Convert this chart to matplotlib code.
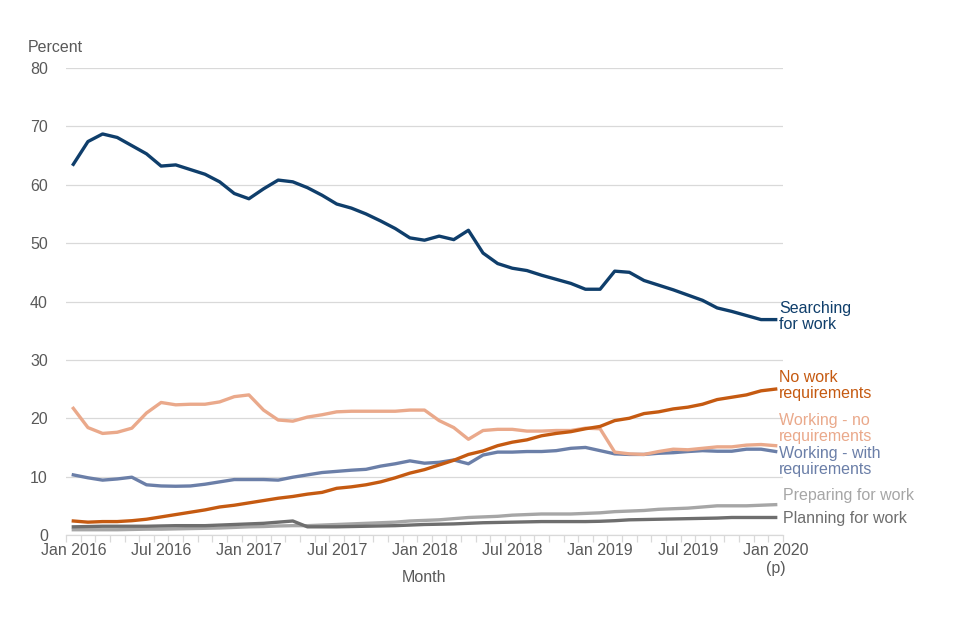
import matplotlib
matplotlib.use("Agg")
import matplotlib.pyplot as plt
import numpy as np

plt.rcParams['font.family'] = ['Liberation Sans', 'DejaVu Sans']

months = list(range(49))
tick_positions = [0, 6, 12, 18, 24, 30, 36, 42, 48]
tick_labels = ["Jan 2016", "Jul 2016", "Jan 2017", "Jul 2017", "Jan 2018",
               "Jul 2018", "Jan 2019", "Jul 2019", "Jan 2020\n(p)"]

searching = [63.5, 67.4, 68.7, 68.1, 66.7, 65.3, 63.2, 63.4, 62.6, 61.8,
             60.5, 58.5, 57.6, 59.3, 60.8, 60.5, 59.5, 58.2, 56.7, 56.0,
             55.0, 53.8, 52.5, 50.9, 50.5, 51.2, 50.6, 52.2, 48.3, 46.5,
             45.7, 45.3, 44.5, 43.8, 43.1, 42.1, 42.1, 45.2, 45.0, 43.6,
             42.8, 42.0, 41.1, 40.2, 38.9, 38.3, 37.6, 36.9, 36.9]
no_work = [2.4, 2.2, 2.3, 2.3, 2.45, 2.7, 3.1, 3.5, 3.9, 4.3,
           4.8, 5.1, 5.5, 5.9, 6.3, 6.6, 7.0, 7.3, 8.0, 8.25,
           8.6, 9.1, 9.8, 10.6, 11.2, 12.0, 12.8, 13.8, 14.4, 15.3,
           15.9, 16.3, 17.0, 17.4, 17.7, 18.2, 18.6, 19.6, 20.0, 20.8,
           21.1, 21.6, 21.9, 22.4, 23.2, 23.6, 24.0, 24.7, 25.0]
working_no = [21.7, 18.4, 17.4, 17.6, 18.3, 20.9, 22.7, 22.3, 22.4, 22.4,
              22.8, 23.7, 24.0, 21.4, 19.7, 19.5, 20.2, 20.6, 21.1, 21.2,
              21.2, 21.2, 21.2, 21.4, 21.4, 19.6, 18.4, 16.4, 17.9, 18.1,
              18.1, 17.8, 17.8, 17.9, 17.9, 18.3, 18.2, 14.2, 13.9, 13.8,
              14.3, 14.7, 14.6, 14.85, 15.1, 15.1, 15.4, 15.5, 15.3]
working_with = [10.3, 9.8, 9.4, 9.6, 9.9, 8.6, 8.4, 8.35, 8.4, 8.7,
                9.1, 9.5, 9.5, 9.5, 9.4, 9.9, 10.3, 10.7, 10.9, 11.1,
                11.25, 11.8, 12.2, 12.7, 12.3, 12.45, 12.85, 12.2, 13.7, 14.2,
                14.2, 14.3, 14.3, 14.45, 14.85, 15.0, 14.45, 13.9, 13.8, 13.8,
                14.0, 14.1, 14.3, 14.45, 14.35, 14.35, 14.7, 14.7, 14.3]
preparing = [0.9, 0.9, 0.9, 0.9, 0.95, 1.0, 1.0, 1.05, 1.1, 1.15,
             1.2, 1.3, 1.4, 1.45, 1.55, 1.6, 1.6, 1.7, 1.8, 1.9,
             2.0, 2.1, 2.2, 2.4, 2.5, 2.6, 2.8, 3.0, 3.1, 3.2,
             3.4, 3.5, 3.6, 3.6, 3.6, 3.7, 3.8, 4.0, 4.1, 4.2,
             4.4, 4.5, 4.6, 4.8, 5.0, 5.0, 5.0, 5.1, 5.2]
planning = [1.4, 1.45, 1.5, 1.5, 1.5, 1.5, 1.55, 1.6, 1.6, 1.6,
            1.7, 1.8, 1.9, 2.0, 2.2, 2.4, 1.4, 1.4, 1.4, 1.45,
            1.5, 1.55, 1.6, 1.7, 1.8, 1.85, 1.9, 2.0, 2.1, 2.15,
            2.2, 2.25, 2.3, 2.3, 2.3, 2.3, 2.35, 2.45, 2.6, 2.65,
            2.7, 2.75, 2.8, 2.85, 2.9, 3.0, 3.0, 3.0, 3.0]

series = [
    (preparing, "#a6a6a6", "Preparing for work", 6.7, 5.5),
    (planning, "#6e6e6e", "Planning for work", 2.9, 5.5),
    (working_with, "#6b7fa8", "Working - with\nrequirements", 12.6, 2.5),
    (working_no, "#eaa98b", "Working - no\nrequirements", 18.3, 2.5),
    (no_work, "#c55a11", "No work\nrequirements", 25.6, 2.5),
    (searching, "#0f3e6b", "Searching\nfor work", 37.4, 2.5),
]

FS = 11.5
fig = plt.figure(figsize=(9.6, 6.4), dpi=100)
ax = fig.add_axes([66/960, 105/640, 717/960, 467/640])

for vals, col, lab, ly, dx in series:
    ax.plot(months, vals, color=col, linewidth=2.4, solid_joinstyle='round')
    ax.annotate(lab, xy=(48, ly), xycoords='data', xytext=(dx, 0),
                textcoords='offset points', color=col, fontsize=FS,
                va='center', ha='left', linespacing=1.07,
                annotation_clip=False)

ax.set_xlim(-0.5, 48.5)
ax.set_ylim(0, 80)
ax.set_yticks(range(0, 81, 10))
ax.yaxis.grid(True, color="#d9d9d9", linewidth=0.9)
ax.set_axisbelow(True)
ax.tick_params(axis='y', length=0, pad=13, labelsize=FS, labelcolor="#595959")

ax.set_xticks(tick_positions)
ax.set_xticklabels(tick_labels, ma='center', linespacing=1.2)
ax.set_xticks(np.arange(-0.5, 49, 1), minor=True)
ax.tick_params(axis='x', which='major', length=0, pad=6, labelsize=FS,
               labelcolor="#595959")
ax.tick_params(axis='x', which='minor', length=5, color="#d9d9d9", width=0.9)

for s in ['top', 'right', 'left']:
    ax.spines[s].set_visible(False)
ax.spines['bottom'].set_color("#d9d9d9")
ax.spines['bottom'].set_linewidth(0.9)

ax.set_xlabel("Month", fontsize=FS, color="#595959", labelpad=-4)
fig.text(55/960, 1 - 48/640, "Percent", fontsize=FS, color="#595959",
         ha='center', va='center')

fig.savefig("out.png", dpi=100)
